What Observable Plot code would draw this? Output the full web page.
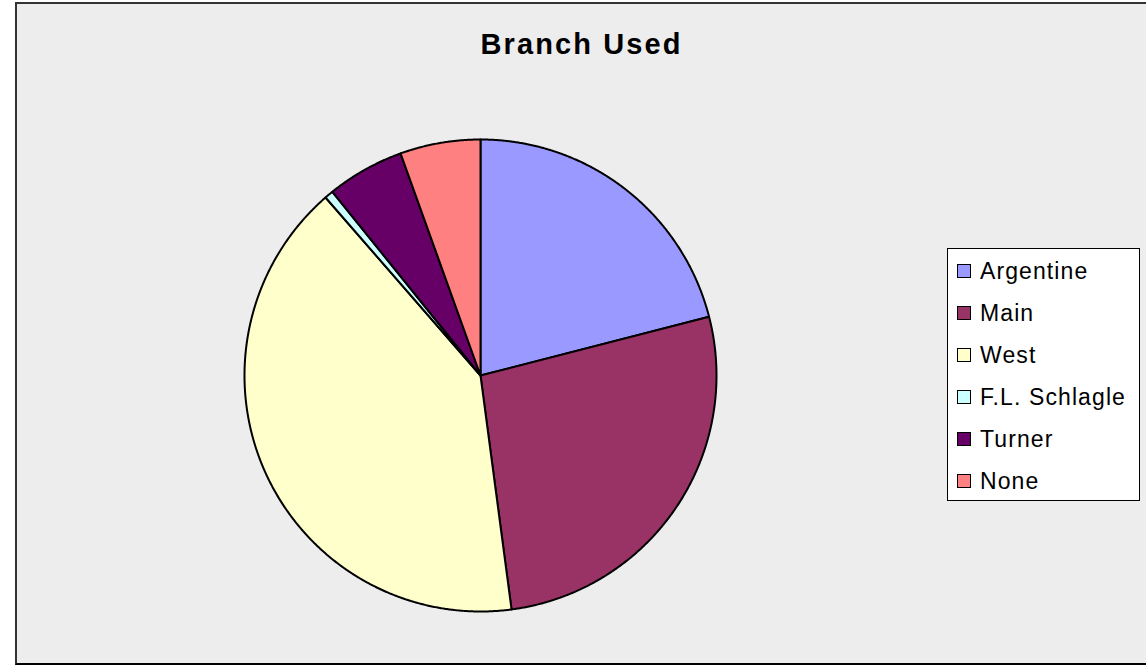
<!DOCTYPE html>
<html>
<head>
<meta charset="utf-8">
<script src="https://cdn.jsdelivr.net/npm/d3@7"></script>
<script src="https://cdn.jsdelivr.net/npm/@observablehq/plot@0.6"></script>
<style>
  html, body { margin: 0; padding: 0; background: #ffffff; }
  body { width: 1146px; height: 665px; position: relative; overflow: hidden; font-family: "Liberation Sans", Arial, sans-serif; }
  #frame { position: absolute; left: 15px; top: 2px; width: 1140px; height: 659px; background: #EDEDED;
           border-left: 2px solid #333; border-top: 2px solid #333; border-bottom: 2px solid #000; }
  #title { position: absolute; left: 0; width: 1163px; top: 28px; text-align: center; font-size: 29px; font-weight: bold; letter-spacing: 2.1px; color: #000; }
  #chart { position: absolute; left: 240px; top: 134.5px; }
  #legend { position: absolute; left: 947px; top: 248px; width: 193px; height: 253px; background: #fff; border: 1px solid #000; box-sizing: border-box; }
  .row { position: absolute; left: 9px; height: 26px; display: flex; align-items: center; font-size: 23px; letter-spacing: 1.1px; color: #000; white-space: nowrap; }
  .sw { width: 12px; height: 12px; border: 1px solid #000; margin-right: 9px; flex: none; }
</style>
</head>
<body>
<div id="frame"></div>
<div id="title">Branch Used</div>
<div id="chart"></div>
<div id="legend"></div>
<script>
const categories = ["Argentine", "Main", "West", "F.L. Schlagle", "Turner", "None"];
const values = [21.0, 26.9, 40.7, 0.6, 5.3, 5.5];
const colors = ["#9999FF", "#993366", "#FFFFCC", "#CCFFFF", "#660066", "#FF8080"];

const R = 236;
const total = d3.sum(values);
const pts = [];
let acc = 0;
categories.forEach((name, i) => {
  const a0 = acc / total * 2 * Math.PI;
  acc += values[i];
  const a1 = acc / total * 2 * Math.PI;
  pts.push({name, x: 0, y: 0});
  const n = Math.max(2, Math.ceil((a1 - a0) / 0.005));
  for (let k = 0; k <= n; k++) {
    const a = a0 + (a1 - a0) * k / n;
    pts.push({name, x: R * Math.sin(a), y: R * Math.cos(a)});
  }
  pts.push({name, x: 0, y: 0});
});

const plot = Plot.plot({
  width: 480, height: 480,
  margin: 0,
  x: {domain: [-240, 240], axis: null},
  y: {domain: [-240, 240], axis: null},
  color: {domain: categories, range: colors},
  style: {background: "transparent", overflow: "visible"},
  marks: [
    Plot.line(pts, {x: "x", y: "y", z: "name", fill: "name", stroke: "#000", strokeWidth: 2, strokeLinejoin: "round"})
  ]
});
document.getElementById("chart").appendChild(plot);

const legend = document.getElementById("legend");
categories.forEach((name, i) => {
  const row = document.createElement("div");
  row.className = "row";
  row.style.top = (9 + i * 42) + "px";
  const sw = document.createElement("div");
  sw.className = "sw";
  sw.style.background = colors[i];
  const t = document.createElement("span");
  t.textContent = name;
  row.appendChild(sw);
  row.appendChild(t);
  legend.appendChild(row);
});
</script>
</body>
</html>
